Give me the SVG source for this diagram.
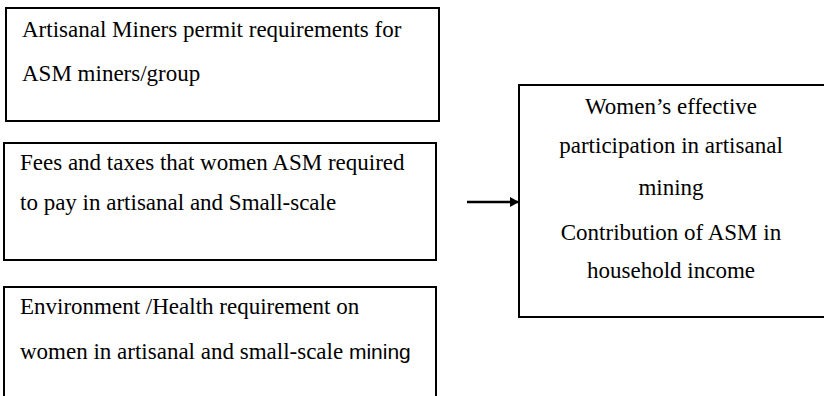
<svg xmlns="http://www.w3.org/2000/svg" width="824" height="396" viewBox="0 0 824 396">
  <style>
    .box { fill: #ffffff; stroke: #000000; stroke-width: 2; }
    .edge { stroke: #000000; stroke-width: 2.5; fill: none; }
  </style>
  <defs>
    <marker id="arrowhead" markerWidth="10" markerHeight="10" refX="8" refY="5" orient="auto" markerUnits="userSpaceOnUse">
      <path d="M0,0 L9,5 L0,10 z" fill="#000000"/>
    </marker>
  </defs>
  <rect width="824" height="396" fill="#ffffff"/>

  <g id="permit">
    <rect class="box" x="6" y="8" width="433" height="113"/>
    <text x="22" y="37" font-family="Liberation Serif" font-size="23">Artisanal Miners permit requirements for</text>
    <text x="22" y="81" font-family="Liberation Serif" font-size="23">ASM miners/group</text>
  </g>

  <g id="fees">
    <rect class="box" x="4" y="143" width="432" height="117"/>
    <text x="20" y="170" font-family="Liberation Serif" font-size="23">Fees and taxes that women ASM required</text>
    <text x="20" y="210" font-family="Liberation Serif" font-size="23">to pay in artisanal and Small-scale</text>
  </g>

  <g id="environment">
    <path class="box" d="M4,400 L4,287 L436,287 L436,400"/>
    <text x="20" y="314" font-family="Liberation Serif" font-size="23">Environment /Health requirement on</text>
    <text x="20" y="359" font-family="Liberation Serif" font-size="23">women in artisanal and small-scale <tspan font-family="Liberation Sans" font-size="21">mining</tspan></text>
  </g>

  <g id="participation">
    <rect class="box" x="519" y="85" width="310" height="232"/>
    <text x="671" y="114" font-family="Liberation Serif" font-size="23" text-anchor="middle">Women’s effective</text>
    <text x="671" y="153" font-family="Liberation Serif" font-size="23" text-anchor="middle">participation in artisanal</text>
    <text x="671" y="195" font-family="Liberation Serif" font-size="23" text-anchor="middle">mining</text>
    <text x="671" y="240" font-family="Liberation Serif" font-size="23" text-anchor="middle">Contribution of ASM in</text>
    <text x="671" y="278" font-family="Liberation Serif" font-size="23" text-anchor="middle">household income</text>
  </g>

  <g id="connectors">
    <line class="edge" x1="467" y1="202" x2="518" y2="202" marker-end="url(#arrowhead)"/>
  </g>
</svg>
